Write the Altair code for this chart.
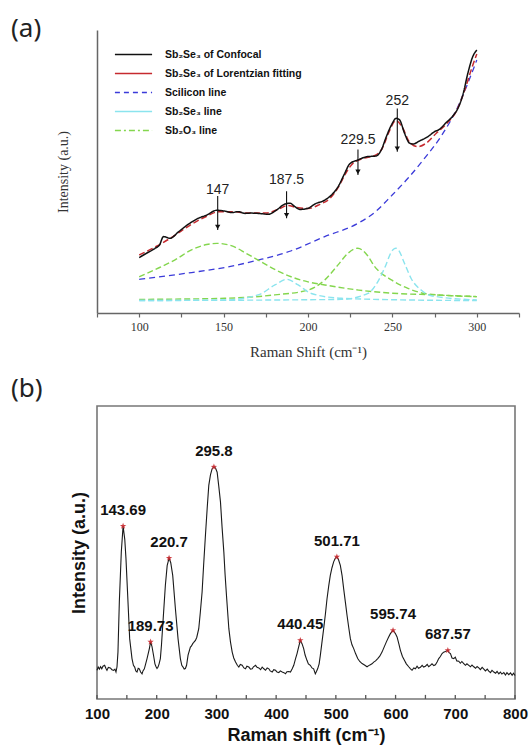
import altair as alt
import pandas as pd

# ================= Panel (a) data =================
conf_x = [100, 104, 109.5, 112, 114.4, 118.3, 123.3, 129.2, 135.1, 140, 145.9, 150.8, 154.8, 158.7, 162.7, 166,
          170.5, 176.5, 181.4, 186.3, 189.3, 192.2, 195.2, 200.1, 204, 210, 213.9, 217.8, 221.8, 224.7, 229.6,
          234.6, 240.5, 243.4, 246.4, 249.4, 252.3, 254.3, 257.2, 260.2, 262.2, 266.1, 271, 275, 277.9, 281.9,
          285.8, 288.8, 291.7, 294.7, 297.6, 300]
conf_y = [19.6, 21.0, 22.9, 24.0, 27.0, 26.4, 28.7, 31.4, 33.5, 34.6, 36.3, 36.0, 35.5, 35.8, 35.2, 35.3,
          35.2, 34.9, 36.4, 38.5, 38.8, 37.6, 36.6, 37.0, 38.5, 39.9, 41.7, 44.6, 49.4, 52.7, 54.1,
          55.2, 55.5, 57.6, 62.3, 66.4, 68.8, 68.2, 63.5, 60.0, 59.7, 60.8, 62.3, 64.1, 64.9, 67.3,
          69.6, 72.3, 77.0, 84.7, 90.6, 92.9]

fit_x = [100, 110, 120, 130, 140, 147, 155, 165, 175, 183, 188, 193, 200, 207, 213, 218, 222, 226, 232, 240,
         244, 248, 252, 256, 260, 265, 270, 276, 282, 288, 293, 297, 300]
fit_y = [20.5, 23.5, 27.0, 31.0, 34.2, 35.8, 35.8, 35.3, 35.3, 36.8, 38.0, 37.3, 36.9, 38.4, 40.5, 44.5, 49.0,
         52.5, 54.5, 55.8, 58.2, 64.0, 68.0, 65.5, 60.5, 58.8, 60.0, 63.5, 66.8, 71.5, 79.0, 86.5, 91.5]

si_x = [100, 131, 150.8, 170.5, 190.2, 209.9, 229.6, 240, 249.4, 259.2, 269.1, 278.9, 288.8, 294.7, 300]
si_y = [11.9, 14.3, 16.1, 18.7, 22.0, 27.0, 31.7, 35.8, 41.4, 47.6, 54.7, 62.5, 72.9, 81.2, 89.4]

g1_x = [100, 110, 121, 131, 140, 146, 155, 163.6, 170.5, 180, 190, 200, 210, 230, 250, 275, 300]
g1_y = [12.8, 15.5, 18.7, 22.3, 24.2, 24.6, 23.7, 21.0, 18.7, 15.5, 12.8, 11.0, 9.9, 8.1, 7.0, 6.4, 5.8]

g2_x = [100, 150.8, 180.4, 200, 210, 217.8, 223.7, 229.5, 235, 239.5, 249.4, 259.2, 269, 285, 300]
g2_y = [4.8, 5.2, 6.4, 8.1, 11.7, 17.0, 21.1, 22.9, 20.5, 16.4, 11.7, 8.7, 6.9, 6.1, 5.8]

c1_x = [100, 150.8, 170.5, 180.4, 187.5, 194.2, 202, 219.8, 260, 300]
c1_y = [4.4, 4.6, 6.4, 9.9, 11.9, 9.9, 6.9, 5.2, 4.6, 4.4]

c2_x = [100, 219.8, 235.5, 241.4, 245.3, 250.2, 252, 253.3, 257.2, 261.1, 267, 273, 300]
c2_y = [4.4, 4.8, 6.9, 11.1, 15.8, 22.3, 22.9, 22.5, 17.5, 12.2, 8.1, 6.1, 4.6]

series_names = ["Sb₂Se₃ of Confocal", "Sb₂Se₃ of Lorentzian fitting", "Scilicon line",
                "Sb₂Se₃ line", "Sb₂O₃ line"]
series_colors = ["#111111", "#c62a2f", "#3b3bd9", "#8be4ee", "#84d64e"]
legend_dashes = [[1, 0], [1, 0], [5, 4], [1, 0], [6, 3, 2, 3]]

ann_x = [146.5, 187.3, 229.6, 252.9]
ann_text = ["147", "187.5", "229.5", "252"]
ann_label_y = [43.5, 47.0, 61.1, 75.0]
arrow_top = [41.3, 43.0, 57.8, 72.3]
arrow_bot = [29.3, 33.5, 48.8, 57.0]

# ================= Panel (b) data =================
spec_x = [100, 102, 104, 106, 108, 110, 112.8, 115, 116.7, 119, 122.3, 125, 127.9, 130, 131.8, 133.5, 135.1,
          137.4, 140.7, 143.69, 146.5, 148.5, 151.9, 154.7, 158.6, 161, 163.1, 165, 167, 169, 170.9, 173,
          175.4, 177, 179.3, 181.5, 183.8, 187.7, 189.73, 192, 195.0, 197, 198.9, 200.5, 202.2, 204, 206.1,
          208, 210.1, 214.5, 217.5, 220.7, 223.5, 226.8, 231.3, 235.7, 239.6, 242, 244.1, 246, 248, 250,
          252.5, 256.4, 258, 260.3, 262, 264.8, 267, 270.4, 273, 276, 278.5, 281.6, 284.5, 287.2, 290,
          292.8, 295.8, 298.5, 301.2, 304, 306.8, 309.5, 312.4, 314.5, 316.8, 320.8, 323.5, 326.4, 329,
          332, 335, 337.5, 340, 343.1, 346, 348.7, 351, 354.3, 357, 359.9, 362, 365.5, 368, 371.0, 374,
          376.6, 379, 382.2, 385, 387.8, 390, 393.4, 396, 399.0, 401.5, 404.5, 407, 410.1, 413, 415.7, 418,
          421.3, 424, 426.9, 429.5, 432.5, 435, 437.0, 440.45, 443.5, 446.1, 448.5, 451.6, 454, 457.2, 460,
          462.8, 465.6, 467.5, 469.5, 472, 474.0, 476.5, 479.6, 482.5, 485.2, 488, 490.7, 493.5, 496.3, 499,
          501.71, 504.5, 507.5, 510.5, 513.1, 516, 518.7, 521.5, 524.3, 527, 529.9, 533, 536.6, 540, 543.9,
          548, 552.2, 555, 557.8, 560.5, 563.4, 566.5, 570.1, 573.5, 577.3, 581, 584.6, 588, 591.3, 595.74,
          599.5, 602.5, 605.5, 608.1, 611.5, 614.8, 618, 622.0, 625, 627.6, 630.5, 633.2, 636, 638.5, 641.6,
          644.5, 647, 650.0, 653, 655.5, 658.3, 661, 664, 666.7, 669.5, 672.3, 675, 677.9, 680.5, 683.5,
          687.57, 689.5, 691.9, 694.5, 697.5, 700, 702.5, 705.8, 708.5, 711, 714.2, 717, 719.5, 722.6, 725.5,
          728, 731.0, 734, 736.5, 739.4, 742, 745, 747.8, 750.5, 753.5, 756.1, 759, 761.5, 764.5, 767.5, 770,
          772.9, 775.5, 778, 781.3, 784, 786.5, 789.6, 792.5, 795.2, 797.5, 800]
spec_y = [9.8, 10.9, 10.2, 11.0, 10.3, 11.2, 11.5, 10.4, 9.8, 10.8, 10.6, 10.0, 9.8, 10.2, 9.2, 11.0, 16.0,
          33.1, 50.2, 59.0, 54.5, 48.0, 33.1, 20.6, 13.8, 11.5, 10.9, 9.6, 9.2, 10.5, 10.3, 9.2,
          8.6, 9.6, 10.3, 12.0, 13.8, 17.2, 19.5, 18.0, 14.5, 12.0, 11.0, 10.4, 10.9, 12.0, 13.8,
          18.5, 25.1, 38.8, 45.5, 48.1, 46.5, 42.2, 30.8, 20.6, 13.8, 11.5, 10.9, 10.2, 10.4, 11.5,
          15.0, 17.7, 18.0, 18.9, 19.3, 20.0, 21.0, 24.0, 29.5, 36.5, 45.5, 55.9, 65.0, 72.9, 76.5,
          78.6, 79.2, 78.8, 77.4, 72.5, 67.2, 58.5, 50.2, 42.5, 35.4, 24.0, 19.5, 16.0, 14.0,
          12.6, 11.5, 10.9, 11.8, 11.5, 10.6, 10.3, 11.2, 10.9, 10.2, 10.3, 11.0, 11.5, 10.8, 10.6, 10.0,
          10.9, 10.4, 9.8, 10.6, 10.3, 9.6, 9.2, 10.0, 9.8, 9.2, 9.0, 9.6, 9.2, 9.0, 8.6, 9.3,
          9.4, 9.2, 10.3, 11.5, 13.8, 15.5, 17.2, 20.0, 18.8, 17.2, 15.0, 13.2, 12.0, 11.5, 10.6,
          10.3, 8.6, 9.4, 10.3, 12.0, 14.9, 19.0, 24.0, 29.0, 34.2, 38.5, 42.2, 44.8, 46.8, 48.0,
          48.5, 47.5, 45.6, 42.0, 37.6, 33.0, 28.6, 24.5, 20.6, 18.5, 17.2, 15.5, 13.8, 12.8, 12.1,
          11.6, 11.0, 11.4, 11.7, 12.0, 12.6, 13.0, 13.8, 14.6, 16.0, 17.8, 19.5, 21.0, 22.3, 23.4,
          22.4, 21.2, 18.8, 16.6, 14.5, 13.2, 12.0, 11.0, 10.3, 9.8, 10.6, 10.3, 11.2, 10.5, 10.8,
          11.5, 10.9, 11.2, 11.8, 11.0, 11.5, 12.0, 11.4, 11.7, 12.6, 13.8, 14.5, 15.5, 16.0, 16.2,
          16.6, 15.8, 15.5, 14.0, 13.8, 14.3, 13.0, 12.9, 12.2, 12.8, 12.1, 11.5, 12.0, 11.5, 11.0,
          11.6, 11.0, 10.5, 11.1, 10.6, 10.0, 10.8, 10.2, 9.6, 10.2, 9.5, 9.0, 9.8, 9.2, 8.8, 9.4,
          8.6, 9.2, 8.5, 9.0, 8.2, 9.0, 8.3, 8.9, 8.1, 8.8, 8.0]

peak_x = [143.69, 189.73, 220.7, 295.8, 440.45, 501.71, 595.74, 687.57]
peak_y = [59.0, 19.5, 48.1, 79.2, 20.0, 48.5, 23.4, 16.6]
peak_labels = ["143.69", "189.73", "220.7", "295.8", "440.45", "501.71", "595.74", "687.57"]
tick_b = list(range(100, 801, 50))

STAR = "M0,-1L0.24,-0.33L0.95,-0.31L0.38,0.12L0.59,0.81L0,0.4L-0.59,0.81L-0.38,0.12L-0.95,-0.31L-0.24,-0.33Z"
LONG_STROKE = "M-1.46,0H1.46"

# ================= Panel (a) =================
serif = "Liberation Serif"
sans = "Liberation Sans"

x_a = alt.X("x:Q", scale=alt.Scale(domain=[75, 325], nice=False, zero=False),
            axis=alt.Axis(values=list(range(75, 326, 25)),
                          labelExpr="(datum.value % 50 == 0 && datum.value >= 100 && datum.value <= 300) ? datum.label : ''",
                          labelOverlap=False, labelFlush=False, grid=False,
                          title="Raman Shift (cm⁻¹)", titleFont=serif, titleFontSize=15,
                          titleFontWeight="normal", titleColor="#333", titlePadding=12,
                          labelFont=serif, labelFontSize=12, labelColor="#333", labelPadding=4,
                          tickSize=4, tickColor="#666", tickWidth=1.2,
                          domainColor="#666", domainWidth=1.5))

def ya(field):
    return alt.Y(field + ":Q", scale=alt.Scale(domain=[0, 100], nice=False, zero=False),
                 axis=alt.Axis(labels=False, ticks=False, grid=False, title="Intensity (a.u.)",
                               titleFont=serif, titleFontSize=14, titleFontWeight="normal",
                               titleColor="#333", titlePadding=27, domainColor="#666", domainWidth=1.5))

def curve(xs, ys, color, dash, width):
    return alt.Chart(pd.DataFrame({"x": xs, "y": ys})).mark_line(
        color=color, strokeDash=dash, strokeWidth=width, interpolate="monotone"
    ).encode(x=x_a, y=ya("y"))

layers_a = [
    curve(si_x, si_y, series_colors[2], [6, 4], 1.3),
    curve(g1_x, g1_y, series_colors[4], [6, 3], 1.4),
    curve(g2_x, g2_y, series_colors[4], [6, 3], 1.4),
    curve(c1_x, c1_y, series_colors[3], [6, 3], 1.4),
    curve(c2_x, c2_y, series_colors[3], [6, 3], 1.4),
    curve(fit_x, fit_y, series_colors[1], [6, 3], 1.5),
    curve(conf_x, conf_y, series_colors[0], [1, 0], 1.5),
]

leg = alt.Legend(orient="none", legendX=23, legendY=11, title=None, symbolType=LONG_STROKE,
                 symbolSize=648, symbolStrokeWidth=1.5, labelFont=sans, labelFontSize=10.5,
                 labelFontWeight="bold", labelColor="#111", labelOffset=18, rowPadding=0,
                 padding=0, labelLimit=400, labelBaseline="middle")
leg_df = pd.DataFrame({"series": series_names * 2, "x": [60] * 5 + [65] * 5, "y": [50] * 10})
legend_layer = alt.Chart(leg_df).mark_line(clip=True).encode(
    x=x_a, y=ya("y"),
    color=alt.Color("series:N", scale=alt.Scale(domain=series_names, range=series_colors), legend=leg),
    strokeDash=alt.StrokeDash("series:N", scale=alt.Scale(domain=series_names, range=legend_dashes), legend=leg),
)

ann_df = pd.DataFrame({"x": ann_x, "label": ann_text, "ly": ann_label_y, "top": arrow_top, "bot": arrow_bot})
ann_text_layer = alt.Chart(ann_df).mark_text(font=sans, fontSize=14, baseline="middle", color="#222").encode(
    x=x_a, y=ya("ly"), text="label:N")
ann_rule = alt.Chart(ann_df).mark_rule(color="#111", strokeWidth=1.1).encode(x=x_a, y=ya("top"), y2="bot:Q")
ann_head = alt.Chart(ann_df).mark_point(shape="triangle-down", filled=True, size=28, color="#111", opacity=1).encode(
    x=x_a, y=ya("bot"), yOffset=alt.value(-3))

lab_a = alt.Chart(pd.DataFrame({"t": ["(a)"]})).mark_text(
    align="left", baseline="top", font="Noto Sans", fontSize=26, color="#222"
).encode(x=alt.value(-86), y=alt.value(-14), text="t:N")

panel_a = alt.layer(*layers_a, legend_layer, ann_rule, ann_head, ann_text_layer, lab_a).properties(
    width=422, height=283)

# ================= Panel (b) =================
x_b = alt.X("x:Q", scale=alt.Scale(domain=[100, 800], nice=False, zero=False),
            axis=alt.Axis(values=list(range(100, 801, 100)), ticks=False, tickSize=0, domain=False, grid=False,
                          labelFlush=False, labelOverlap=False,
                          labelFont=sans, labelFontSize=15, labelFontWeight="bold", labelColor="#111",
                          labelPadding=7, title="Raman shift (cm⁻¹)", titleFont=sans, titleFontSize=18,
                          titleFontWeight="bold", titleColor="#111", titlePadding=5))

def yb(field):
    return alt.Y(field + ":Q", scale=alt.Scale(domain=[0, 100], nice=False, zero=False),
                 axis=alt.Axis(labels=False, ticks=False, domain=False, grid=False, title="Intensity (a.u.)",
                               titleFont=sans, titleFontSize=18, titleFontWeight="bold", titleColor="#111",
                               titlePadding=9))

spec = alt.Chart(pd.DataFrame({"x": spec_x, "y": spec_y})).mark_line(color="#1a1a1a", strokeWidth=1.1).encode(
    x=x_b, y=yb("y"))
tick_df = pd.DataFrame({"x": tick_b, "y0": [0] * len(tick_b), "y1": [1.4] * len(tick_b)})
ticks_b = alt.Chart(tick_df).mark_rule(color="#555", strokeWidth=1.3).encode(x=x_b, y=yb("y0"), y2="y1:Q")
peak_df = pd.DataFrame({"x": peak_x, "y": peak_y, "label": peak_labels})
stars = alt.Chart(peak_df).mark_point(shape=STAR, filled=True, size=45, color="#c8282d", opacity=0.9).encode(
    x=x_b, y=yb("y"))
peak_text = alt.Chart(peak_df).mark_text(font=sans, fontSize=15, fontWeight="bold", color="#111",
                                         baseline="middle", dy=-16).encode(x=x_b, y=yb("y"), text="label:N")
lab_b = alt.Chart(pd.DataFrame({"t": ["(b)"]})).mark_text(
    align="left", baseline="top", font="Noto Sans", fontSize=26, color="#222"
).encode(x=alt.value(-86), y=alt.value(-30.5), text="t:N")

panel_b = alt.layer(spec, ticks_b, stars, peak_text, lab_b).properties(
    width=418, height=293, view=alt.ViewBackground(stroke="#777", strokeWidth=1.6))

chart = alt.vconcat(panel_a, panel_b, spacing=15).properties(
    padding={"left": 10, "top": 16, "right": 0, "bottom": 0}, background="white"
).configure_view(stroke=None)

chart.save("out.html", embed_options={"renderer": "svg", "actions": False})
